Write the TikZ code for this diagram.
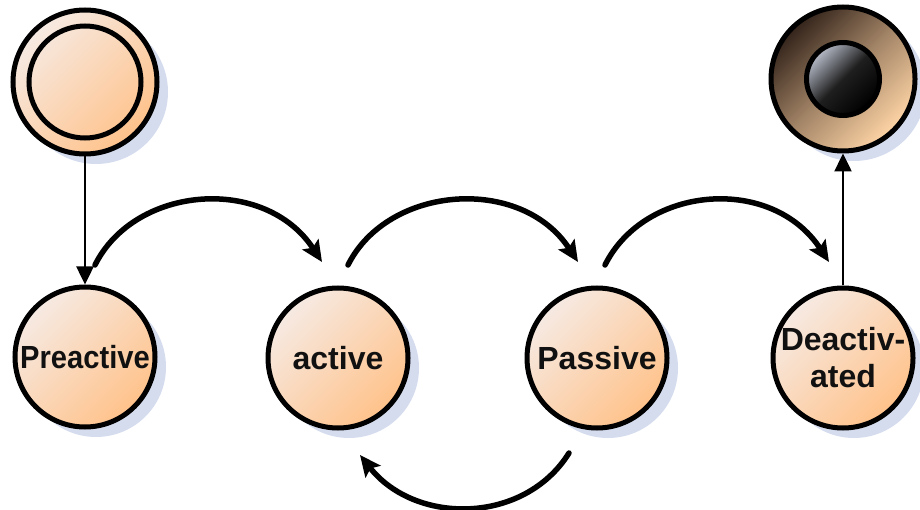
\documentclass[tikz,border=0pt]{standalone}
\usepackage{graphicx}
\usepackage{fontspec}
\setmainfont{Liberation Sans}
\usetikzlibrary{arrows.meta,shadows}
\definecolor{peachlight}{HTML}{F6EAE3}
\definecolor{peachdark}{HTML}{FFC28A}
\definecolor{shadowblue}{HTML}{D4DCEE}
\definecolor{ringdark}{HTML}{33231A}
\definecolor{ringlight}{HTML}{FFD5A6}
\definecolor{ballgrey}{HTML}{B8BDCA}
\definecolor{inkc}{HTML}{111111}

\begin{document}
\begin{tikzpicture}[x=1pt,y=-1pt,
  bluesh/.style={drop shadow={shadow xshift=11pt,shadow yshift=-10pt,fill=shadowblue,opacity=1}},
  peachfill/.style={top color=peachlight,bottom color=peachdark,shading angle=45},
  statebox/.style={circle,draw=black,line width=5pt,minimum size=140pt,inner sep=0pt,
    peachfill,bluesh,font=\fontsize{32}{37}\selectfont\bfseries,text=inkc,align=center},
  startbox/.style={circle,draw=black,line width=5pt,minimum size=144pt,inner sep=0pt,
    peachfill,bluesh},
  endbox/.style={circle,draw=black,line width=5pt,minimum size=144pt,inner sep=0pt,
    top color=ringdark,bottom color=ringlight,middle color=ringdark!45!ringlight,
    shading angle=45,bluesh},
  ballbox/.style={circle,draw=black,line width=5pt,minimum size=73pt,inner sep=0pt,
    top color=ballgrey,bottom color=black,middle color=black!88,shading angle=45},
  flow/.style={line width=5.5pt,line cap=round,
    -{Stealth[length=21pt,width=19pt,inset=4pt]}},
  link/.style={line width=2.5pt,-{Triangle[length=18pt,width=17pt]}}
]
\useasboundingbox (0,0) rectangle (920,510);

% states
\node[startbox] (start) at (85,82) {};
\draw[line width=5pt] (start.center) circle[radius=56pt];
\node[endbox] (end) at (843,79) {};
\node[ballbox] (endcore) at (end.center) {};

\node[statebox] (pre) at (85,357) {\scalebox{0.91}[1]{Preactive}};
\node[statebox] (act) at (338,358) {active};
\node[statebox] (pas) at (597,358) {Passive};
\node[statebox] (deac) at (843,358) {Deactiv-\\ated};

% straight transitions
\draw[link] (start) -- (pre);
\draw[link] (deac) -- (end);

% arc end points
\coordinate (a1s) at ([shift={(10,-92)}]pre.center);
\coordinate (a1e) at ([shift={(-16,-96)}]act.center);
\coordinate (a2s) at ([shift={(10,-93)}]act.center);
\coordinate (a2e) at ([shift={(-19,-96)}]pas.center);
\coordinate (a3s) at ([shift={(8,-93)}]pas.center);
\coordinate (a3e) at ([shift={(-14,-96)}]deac.center);
\coordinate (bs) at ([shift={(-28,95)}]pas.center);
\coordinate (be) at ([shift={(22,97)}]act.center);

% curved transitions
\draw[flow] (a1s) .. controls +(40,-80) and +(-57,-87) .. (a1e);
\draw[flow] (a2s) .. controls +(40,-80) and +(-57,-87) .. (a2e);
\draw[flow] (a3s) .. controls +(40,-80) and +(-57,-87) .. (a3e);
\draw[flow] (bs) .. controls +(-45,72) and +(55,70) .. (be);
\end{tikzpicture}
\end{document}
